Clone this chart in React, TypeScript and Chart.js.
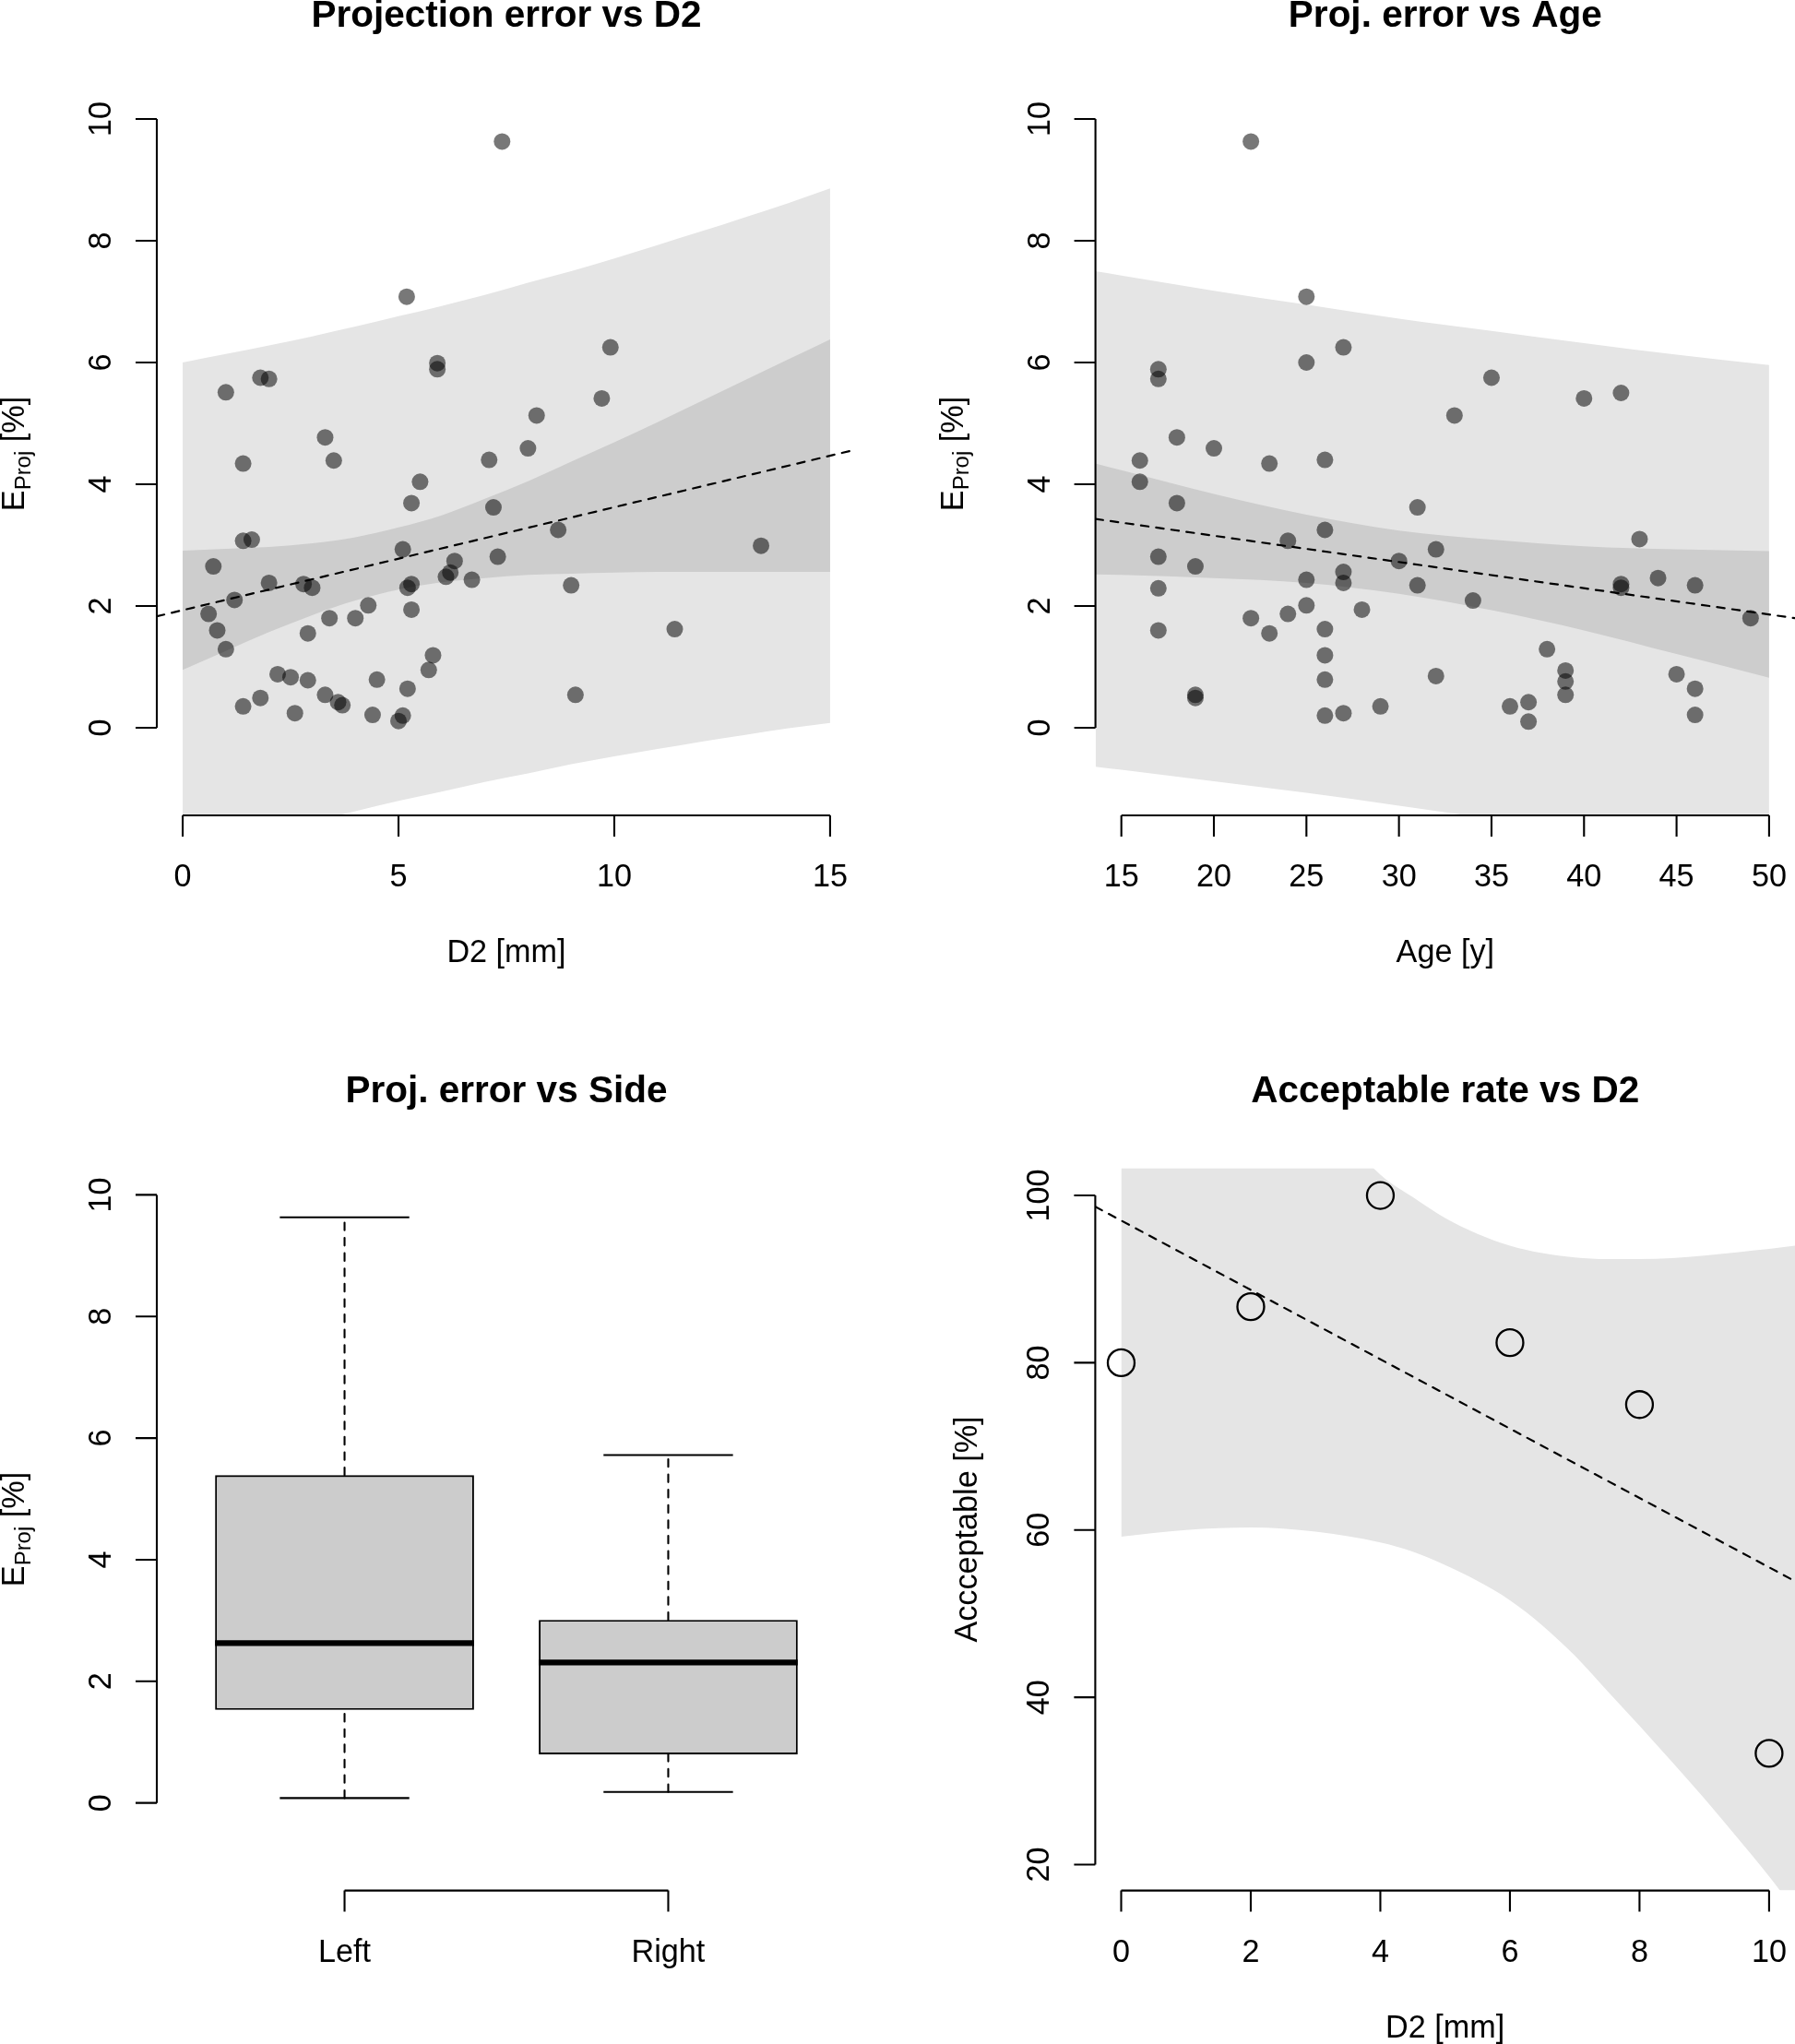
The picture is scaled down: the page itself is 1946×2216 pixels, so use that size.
import React, { useEffect, useRef } from "react";
import { Chart, registerables } from "chart.js";

Chart.register(...registerables);

// ---------------- Panel 1: Projection error vs D2 ----------------
const d2Values = [7.40, 5.19, 5.90, 5.90, 1.80, 2.00, 1.00, 3.30, 3.50, 1.40, 7.10, 5.50, 5.30, 7.20, 1.40, 1.60, 0.71, 5.10, 7.30, 6.30, 6.20, 6.10, 6.70, 2.00, 2.80, 3.00, 5.30, 5.21, 1.20, 0.60, 0.80, 1.00, 5.30, 4.30, 4.00, 3.40, 2.90, 5.80, 5.70, 2.20, 2.50, 2.90, 4.50, 5.21, 3.30, 3.60, 3.70, 1.80, 1.40, 2.60, 4.40, 5.10, 5.00, 9.91, 9.71, 8.20, 8.00, 8.70, 13.40, 9.00, 11.40, 9.10];
const d2Errors = [9.63, 7.08, 5.99, 5.89, 5.75, 5.73, 5.51, 4.77, 4.39, 4.34, 4.40, 4.04, 3.69, 3.62, 3.07, 3.09, 2.65, 2.93, 2.81, 2.74, 2.55, 2.48, 2.43, 2.38, 2.36, 2.30, 2.36, 2.30, 2.10, 1.87, 1.60, 1.29, 1.94, 2.01, 1.80, 1.80, 1.55, 1.19, 0.95, 0.88, 0.83, 0.78, 0.79, 0.64, 0.54, 0.42, 0.37, 0.49, 0.35, 0.24, 0.21, 0.20, 0.11, 6.25, 5.41, 5.13, 4.59, 3.25, 2.99, 2.34, 1.62, 0.54];
const d2Ticks = [0, 5, 10, 15];
const errTicks = [0, 2, 4, 6, 8, 10];
const d2FitX = [-0.6, 15.6];
const d2FitY = [1.83, 4.57];
const d2BandX = [0, 1, 2, 3, 4, 5, 6, 7, 8, 9, 10, 11, 12, 13, 14, 15];
const d2PIUpper = [6.00, 6.14, 6.28, 6.43, 6.59, 6.76, 6.93, 7.11, 7.31, 7.50, 7.71, 7.93, 8.15, 8.38, 8.61, 8.86];
const d2PILower = [-2.14, -1.94, -1.74, -1.55, -1.37, -1.20, -1.05, -0.89, -0.75, -0.60, -0.47, -0.35, -0.23, -0.12, -0.01, 0.08];
const d2CIUpper = [2.91, 2.94, 2.97, 3.03, 3.13, 3.29, 3.49, 3.76, 4.05, 4.37, 4.69, 5.02, 5.36, 5.70, 6.04, 6.38];
const d2CILower = [0.95, 1.26, 1.57, 1.85, 2.09, 2.27, 2.39, 2.46, 2.51, 2.53, 2.55, 2.56, 2.56, 2.56, 2.56, 2.56];

// ---------------- Panel 2: Proj. error vs Age ----------------
const ageValues = [22, 25, 27, 25, 17, 17, 18, 20, 16, 23, 26, 16, 18, 31, 26, 24, 32, 17, 30, 19, 27, 27, 25, 31, 17, 25, 28, 24, 22, 23, 17, 26, 26, 26, 32, 19, 19, 26, 27, 29, 35, 33, 40, 42, 43, 34, 42, 42, 44, 46, 49, 38, 39, 39, 39, 45, 46, 46, 36, 37, 37];
const ageErrors = [9.63, 7.08, 6.25, 6.00, 5.89, 5.73, 4.77, 4.59, 4.39, 4.34, 4.40, 4.04, 3.69, 3.62, 3.25, 3.07, 2.93, 2.81, 2.74, 2.65, 2.56, 2.38, 2.43, 2.34, 2.29, 2.01, 1.94, 1.87, 1.80, 1.55, 1.60, 1.62, 1.19, 0.79, 0.85, 0.54, 0.49, 0.20, 0.24, 0.35, 5.75, 5.13, 5.41, 5.50, 3.10, 2.09, 2.36, 2.30, 2.46, 2.34, 1.80, 1.29, 0.94, 0.76, 0.54, 0.88, 0.64, 0.21, 0.35, 0.42, 0.10];
const ageTicks = [15, 20, 25, 30, 35, 40, 45, 50];
const ageFitX = [13.6, 51.4];
const ageFitY = [3.43, 1.80];
const ageBandX = [13.6, 15, 20, 25, 30, 35, 40, 45, 50];
const agePIUpper = [7.50, 7.43, 7.18, 6.95, 6.72, 6.52, 6.32, 6.13, 5.96];
const agePILower = [-0.64, -0.69, -0.88, -1.07, -1.28, -1.50, -1.74, -1.99, -2.24];
const ageCIUpper = [4.34, 4.23, 3.84, 3.50, 3.24, 3.09, 2.98, 2.93, 2.90];
const ageCILower = [2.52, 2.51, 2.46, 2.38, 2.20, 1.93, 1.60, 1.21, 0.82];

// ---------------- Panel 3: Proj. error vs Side ----------------
const sides = ["Left", "Right"];
const boxMin = [0.08, 0.18];
const boxQ1 = [1.53, 0.80];
const boxMedian = [2.63, 2.31];
const boxQ3 = [5.39, 3.01];
const boxMax = [9.63, 5.72];

// ---------------- Panel 4: Acceptable rate vs D2 ----------------
const accD2 = [0, 2, 4, 6, 8, 10];
const accRate = [80, 86.7, 100, 82.4, 75, 33.3];
const accXTicks = [0, 2, 4, 6, 8, 10];
const accYTicks = [20, 40, 60, 80, 100];
const accFitX = [-0.4, 10.4];
const accFitY = [98.66, 53.88];
const accBandX = [0, 1, 2, 3, 4, 4.5, 5, 5.5, 6, 6.5, 7, 7.5, 8, 8.5, 9, 9.5, 10, 10.4];
const accBandUpper = [150, 135, 122, 111, 102.5, 99.8, 97.3, 95.4, 94.0, 93.1, 92.6, 92.4, 92.4, 92.5, 92.8, 93.2, 93.6, 94.0];
const accBandLower = [59.2, 60.0, 60.3, 59.8, 58.5, 57.4, 55.8, 53.9, 51.6, 48.6, 45.0, 40.8, 36.6, 32.3, 27.9, 23.3, 18.6, 14.5];

// ---------------- styling ----------------
const FONT = '"Liberation Sans", Arial, Helvetica, sans-serif';
const BASE = 34.2;
const TITLE = 40.5;
const LW = 2.1;
const TICK = 23;
const LIGHT = "#e5e5e5";
const DARK = "#cdcdcd";
const DASH = [8.3, 8.3];
const PANEL_W = 973;
const PANEL_H = 1108;
const BOX_HALF = 0.4;
const CAP_HALF = 0.2;

const pts = (xs: number[], ys: number[]) => xs.map((x, i) => ({ x, y: ys[i] }));

type Part = { t: string; s?: number; dy?: number };
type AxisSpec = {
  title: string;
  xTicks: number[];
  xLabels: string[];
  yTicks: number[];
  yLabels: string[];
  xTitle?: string;
  yTitle: Part[];
  yTitleGap: number;
};

const EPROJ: Part[] = [{ t: "E" }, { t: "Proj", s: 0.7, dy: 6.7 }, { t: " [%]" }];

function makeAxesPlugin(spec: AxisSpec) {
  return {
    id: "rAxes",
    afterDraw(chart: any) {
      const { ctx, chartArea } = chart;
      const { left, right, top, bottom } = chartArea;
      const sx = chart.scales.x;
      const sy = chart.scales.y;
      ctx.save();
      ctx.strokeStyle = "#000";
      ctx.fillStyle = "#000";
      ctx.lineWidth = LW;
      ctx.setLineDash([]);
      ctx.lineCap = "butt";
      const xp = spec.xTicks.map((v) => sx.getPixelForValue(v));
      const yp = spec.yTicks.map((v) => sy.getPixelForValue(v));
      ctx.beginPath();
      ctx.moveTo(xp[0], bottom);
      ctx.lineTo(xp[xp.length - 1], bottom);
      for (const p of xp) {
        ctx.moveTo(p, bottom);
        ctx.lineTo(p, bottom + TICK);
      }
      ctx.moveTo(left, yp[0]);
      ctx.lineTo(left, yp[yp.length - 1]);
      for (const p of yp) {
        ctx.moveTo(left, p);
        ctx.lineTo(left - TICK, p);
      }
      ctx.stroke();

      ctx.font = `${BASE}px ${FONT}`;
      ctx.textAlign = "center";
      ctx.textBaseline = "alphabetic";
      spec.xLabels.forEach((l, i) => ctx.fillText(l, xp[i], bottom + 77));
      spec.yLabels.forEach((l, i) => {
        ctx.save();
        ctx.translate(left - 50, yp[i]);
        ctx.rotate(-Math.PI / 2);
        ctx.fillText(l, 0, 0);
        ctx.restore();
      });
      if (spec.xTitle) ctx.fillText(spec.xTitle, (left + right) / 2, bottom + 159);

      // y title (may contain subscript)
      ctx.save();
      ctx.translate(left - spec.yTitleGap, (top + bottom) / 2);
      ctx.rotate(-Math.PI / 2);
      ctx.textAlign = "left";
      const widths = spec.yTitle.map((p) => {
        ctx.font = `${BASE * (p.s ?? 1)}px ${FONT}`;
        return ctx.measureText(p.t).width;
      });
      let cx = -widths.reduce((a, b) => a + b, 0) / 2;
      spec.yTitle.forEach((p, i) => {
        ctx.font = `${BASE * (p.s ?? 1)}px ${FONT}`;
        ctx.fillText(p.t, cx, p.dy ?? 0);
        cx += widths[i];
      });
      ctx.restore();

      ctx.font = `bold ${TITLE}px ${FONT}`;
      ctx.textAlign = "center";
      ctx.fillText(spec.title, (left + right) / 2, top - 71);
      ctx.restore();
    },
  };
}

function baseOptions(pad: any, xMin: number, xMax: number, yMin: number, yMax: number) {
  return {
    responsive: false,
    maintainAspectRatio: false,
    animation: false,
    devicePixelRatio: 1,
    events: [],
    layout: { padding: pad, autoPadding: false },
    scales: {
      x: {
        type: "linear",
        display: false,
        offset: false,
        min: xMin,
        max: xMax,
        ticks: { stepSize: 1, includeBounds: false },
      },
      y: { type: "linear", display: false, offset: false, beginAtZero: false, min: yMin, max: yMax },
    },
    plugins: { legend: { display: false }, tooltip: { enabled: false } },
  };
}

const band = (xs: number[], ys: number[], fill: any, color: string, order: number) => ({
  type: "line",
  data: pts(xs, ys),
  fill,
  backgroundColor: color,
  borderColor: "rgba(0,0,0,0)",
  borderWidth: 0,
  pointRadius: 0,
  cubicInterpolationMode: "monotone",
  capBezierPoints: false,
  order,
});

const segment = (xs: number[], ys: number[], extra: any = {}) => ({
  type: "line",
  data: pts(xs, ys),
  borderColor: "#000",
  borderWidth: LW,
  pointRadius: 0,
  fill: false,
  ...extra,
});

const dashed = (xs: number[], ys: number[]) =>
  segment(xs, ys, { borderWidth: 2.2, borderDash: DASH, borderCapStyle: "round", order: 1 });

const filledPoints = (xs: number[], ys: number[]) => ({
  type: "line",
  data: pts(xs, ys),
  showLine: false,
  pointRadius: 9,
  pointBackgroundColor: "rgba(0,0,0,0.53)",
  pointBorderWidth: 0,
  fill: false,
  order: 0,
});

const numLabels = (a: number[]) => a.map((v) => String(v));

function configD2() {
  return {
    type: "line",
    data: {
      datasets: [
        band(d2BandX, d2PIUpper, "+1", LIGHT, 5),
        band(d2BandX, d2PILower, false, LIGHT, 5),
        band(d2BandX, d2CIUpper, "+1", DARK, 4),
        band(d2BandX, d2CILower, false, DARK, 4),
        dashed(d2FitX, d2FitY),
        filledPoints(d2Values, d2Errors),
      ],
    },
    options: baseOptions({ left: 170, right: 45, top: 100, bottom: 224 }, -0.6, 15.6, -1.44, 10.44),
    plugins: [
      makeAxesPlugin({
        title: "Projection error vs D2",
        xTicks: d2Ticks,
        xLabels: numLabels(d2Ticks),
        yTicks: errTicks,
        yLabels: numLabels(errTicks),
        xTitle: "D2 [mm]",
        yTitle: EPROJ,
        yTitleGap: 144,
      }),
    ],
  };
}

function configAge() {
  return {
    type: "line",
    data: {
      datasets: [
        band(ageBandX, agePIUpper, "+1", LIGHT, 5),
        band(ageBandX, agePILower, false, LIGHT, 5),
        band(ageBandX, ageCIUpper, "+1", DARK, 4),
        band(ageBandX, ageCILower, false, DARK, 4),
        dashed(ageFitX, ageFitY),
        filledPoints(ageValues, ageErrors),
      ],
    },
    options: baseOptions({ left: 214.6, right: 0, top: 100, bottom: 224 }, 13.6, 51.4, -1.44, 10.44),
    plugins: [
      makeAxesPlugin({
        title: "Proj. error vs Age",
        xTicks: ageTicks,
        xLabels: numLabels(ageTicks),
        yTicks: errTicks,
        yLabels: numLabels(errTicks),
        xTitle: "Age [y]",
        yTitle: EPROJ,
        yTitleGap: 144,
      }),
    ],
  };
}

function configSide() {
  const pos = sides.map((_, i) => i + 1);
  const whiskerStyle = { borderDash: DASH, borderCapStyle: "round", order: 1 };
  return {
    type: "line",
    data: {
      datasets: [
        {
          type: "bar",
          data: pos.map((p, i) => ({ x: p, y: [boxQ1[i], boxQ3[i]] })),
          backgroundColor: "#cccccc",
          borderColor: "#000",
          borderWidth: LW,
          borderSkipped: false,
          barPercentage: 2 * BOX_HALF,
          categoryPercentage: 1,
          grouped: false,
          order: 3,
        },
        ...pos.flatMap((p, i) => [
          segment([p, p], [boxQ3[i], boxMax[i]], whiskerStyle),
          segment([p, p], [boxMin[i], boxQ1[i]], whiskerStyle),
          segment([p - CAP_HALF, p + CAP_HALF], [boxMax[i], boxMax[i]], { order: 1 }),
          segment([p - CAP_HALF, p + CAP_HALF], [boxMin[i], boxMin[i]], { order: 1 }),
          segment([p - BOX_HALF, p + BOX_HALF], [boxMedian[i], boxMedian[i]], { borderWidth: 6.3, order: 0 }),
        ]),
      ],
    },
    options: baseOptions({ left: 170, right: 45, top: 158.4, bottom: 166.4 }, 0.42, 2.58, -1.44, 10.44),
    plugins: [
      makeAxesPlugin({
        title: "Proj. error vs Side",
        xTicks: pos,
        xLabels: sides,
        yTicks: errTicks,
        yLabels: numLabels(errTicks),
        yTitle: EPROJ,
        yTitleGap: 144,
      }),
    ],
  };
}

function configAcc() {
  return {
    type: "line",
    data: {
      datasets: [
        band(accBandX, accBandUpper, "+1", LIGHT, 5),
        band(accBandX, accBandLower, false, LIGHT, 5),
        dashed(accFitX, accFitY),
        {
          type: "line",
          data: pts(accD2, accRate),
          showLine: false,
          pointRadius: 14.5,
          pointBackgroundColor: "rgba(0,0,0,0)",
          pointBorderColor: "#000",
          pointBorderWidth: 2.3,
          fill: false,
          order: 0,
        },
      ],
    },
    options: baseOptions({ left: 214.4, right: 0, top: 158.4, bottom: 166.4 }, -0.4, 10.4, 16.9, 103.27),
    plugins: [
      makeAxesPlugin({
        title: "Acceptable rate vs D2",
        xTicks: accXTicks,
        xLabels: numLabels(accXTicks),
        yTicks: accYTicks,
        yLabels: numLabels(accYTicks),
        xTitle: "D2 [mm]",
        yTitle: [{ t: "Accceptable [%]" }],
        yTitleGap: 128.5,
      }),
    ],
  };
}

function Panel({ left, top, build }: { left: number; top: number; build: () => any }) {
  const ref = useRef<HTMLCanvasElement | null>(null);
  useEffect(() => {
    if (!ref.current) return;
    const chart = new Chart(ref.current, build() as any);
    return () => chart.destroy();
  }, []);
  return (
    <canvas
      ref={ref}
      width={PANEL_W}
      height={PANEL_H}
      style={{ position: "absolute", left, top, width: PANEL_W, height: PANEL_H, display: "block" }}
    />
  );
}

export default function App() {
  useEffect(() => {
    document.body.style.margin = "0";
    document.body.style.background = "#ffffff";
  }, []);
  return (
    <div style={{ position: "absolute", left: 0, top: 0, width: 1946, height: 2216, background: "#ffffff", overflow: "hidden" }}>
      <Panel left={0} top={0} build={configD2} />
      <Panel left={973} top={0} build={configAge} />
      <Panel left={0} top={1108} build={configSide} />
      <Panel left={973} top={1108} build={configAcc} />
    </div>
  );
}
